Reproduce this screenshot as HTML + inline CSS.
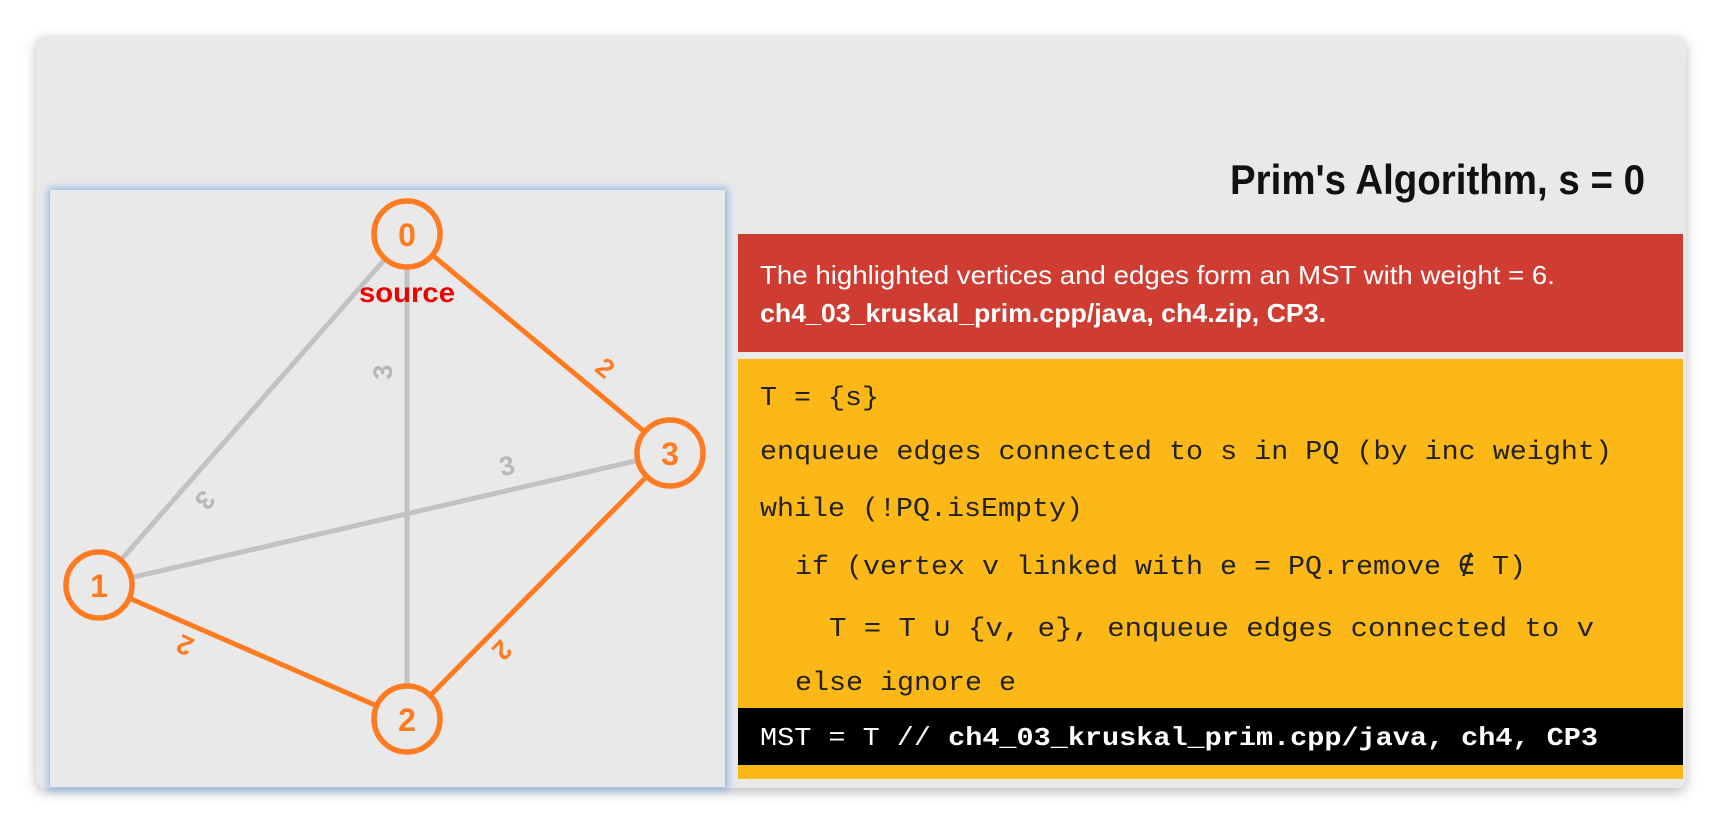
<!DOCTYPE html>
<html><head><meta charset="utf-8"><style>
html,body{margin:0;padding:0;background:#fff;}
svg{display:block;}
</style></head><body>
<svg width="1722" height="826" viewBox="0 0 1722 826" xmlns="http://www.w3.org/2000/svg">
<defs>
<filter id="sh" x="-5%" y="-5%" width="110%" height="115%"><feGaussianBlur stdDeviation="6"/></filter>
<filter id="bl" x="-5%" y="-5%" width="110%" height="110%"><feGaussianBlur stdDeviation="4"/></filter>
</defs>
<rect x="36" y="40" width="1650" height="752" rx="10" fill="#bbb" filter="url(#sh)"/>
<rect x="36" y="36" width="1650" height="752" rx="9" fill="#e9e9e9"/>
<rect x="48" y="188" width="680" height="602" fill="#8fb6e3" filter="url(#bl)"/>
<rect x="50" y="190" width="675" height="597" fill="#e9e9e9"/>
<g stroke-linecap="round" font-family="'Liberation Sans',sans-serif" font-weight="bold">
<line x1="407" y1="234" x2="99" y2="585" stroke="#c2c2c2" stroke-width="5"/>
<line x1="407" y1="234" x2="407" y2="719" stroke="#c2c2c2" stroke-width="5"/>
<line x1="99" y1="585" x2="670" y2="453" stroke="#c2c2c2" stroke-width="5"/>
<line x1="407" y1="234" x2="670" y2="453" stroke="#ff7b22" stroke-width="5"/>
<line x1="99" y1="585" x2="407" y2="719" stroke="#ff7b22" stroke-width="5"/>
<line x1="407" y1="719" x2="670" y2="453" stroke="#ff7b22" stroke-width="5"/>
<g font-size="27" fill="#b8b8b8">
<text x="0" y="0" text-anchor="middle" transform="translate(383,372) rotate(-90)" dy="9">3</text>
<text x="0" y="0" text-anchor="middle" transform="translate(205,500) rotate(130)" dy="9">3</text>
<text x="0" y="0" text-anchor="middle" transform="translate(507,466) rotate(-13)" dy="9">3</text>
</g>
<g font-size="27" fill="#ff7b22">
<text x="0" y="0" text-anchor="middle" transform="translate(605,368) rotate(40)" dy="9">2</text>
<text x="0" y="0" text-anchor="middle" transform="translate(185,645) rotate(205)" dy="9">2</text>
<text x="0" y="0" text-anchor="middle" transform="translate(502,650) rotate(135)" dy="9">2</text>
</g>
<g fill="#e9e9e9" stroke="#ff7b22" stroke-width="5.5">
<circle cx="407" cy="234" r="33"/>
<circle cx="99" cy="585" r="33"/>
<circle cx="407" cy="719" r="33"/>
<circle cx="670" cy="453" r="33"/>
</g>
<g font-size="32" fill="#ff7b22" text-anchor="middle">
<text x="407" y="246">0</text>
<text x="99" y="597">1</text>
<text x="407" y="731">2</text>
<text x="670" y="465">3</text>
</g>
<text x="407" y="302" font-size="28" fill="#ee0000" text-anchor="middle" textLength="96" lengthAdjust="spacingAndGlyphs">source</text>
</g>
<text x="1645" y="194" font-family="'Liberation Sans',sans-serif" font-weight="bold" font-size="42" fill="#111" text-anchor="end" textLength="415" lengthAdjust="spacingAndGlyphs">Prim's Algorithm, s = 0</text>
<rect x="738" y="234" width="945" height="118" fill="#cf3c31"/>
<g font-family="'Liberation Sans',sans-serif" font-size="26" fill="#fff">
<text x="760" y="284" textLength="795" lengthAdjust="spacingAndGlyphs">The highlighted vertices and edges form an MST with weight = 6.</text>
<text x="760" y="322" font-weight="bold" textLength="566" lengthAdjust="spacingAndGlyphs">ch4_03_kruskal_prim.cpp/java, ch4.zip, CP3.</text>
</g>
<rect x="738" y="359" width="945" height="420" fill="#fcb817"/>
<g font-family="'Liberation Mono',monospace" font-size="27" fill="#222">
<text x="760" y="405" textLength="119" lengthAdjust="spacingAndGlyphs">T = {s}</text>
<text x="760" y="459" textLength="852" lengthAdjust="spacingAndGlyphs">enqueue edges connected to s in PQ (by inc weight)</text>
<text x="760" y="516" textLength="323" lengthAdjust="spacingAndGlyphs">while (!PQ.isEmpty)</text>
<text x="795" y="574" textLength="731" lengthAdjust="spacingAndGlyphs">if (vertex v linked with e = PQ.remove ∉ T)</text>
<text x="829" y="636" textLength="765" lengthAdjust="spacingAndGlyphs">T = T ∪ {v, e}, enqueue edges connected to v</text>
<text x="795" y="690" textLength="221" lengthAdjust="spacingAndGlyphs">else ignore e</text>
</g>
<rect x="738" y="708" width="945" height="57" fill="#000"/>
<g font-family="'Liberation Mono',monospace" font-size="26" fill="#fff">
<text x="760" y="745" textLength="838" lengthAdjust="spacingAndGlyphs">MST = T // <tspan font-weight="bold">ch4_03_kruskal_prim.cpp/java, ch4, CP3</tspan></text>
</g>
</svg>
</body></html>
